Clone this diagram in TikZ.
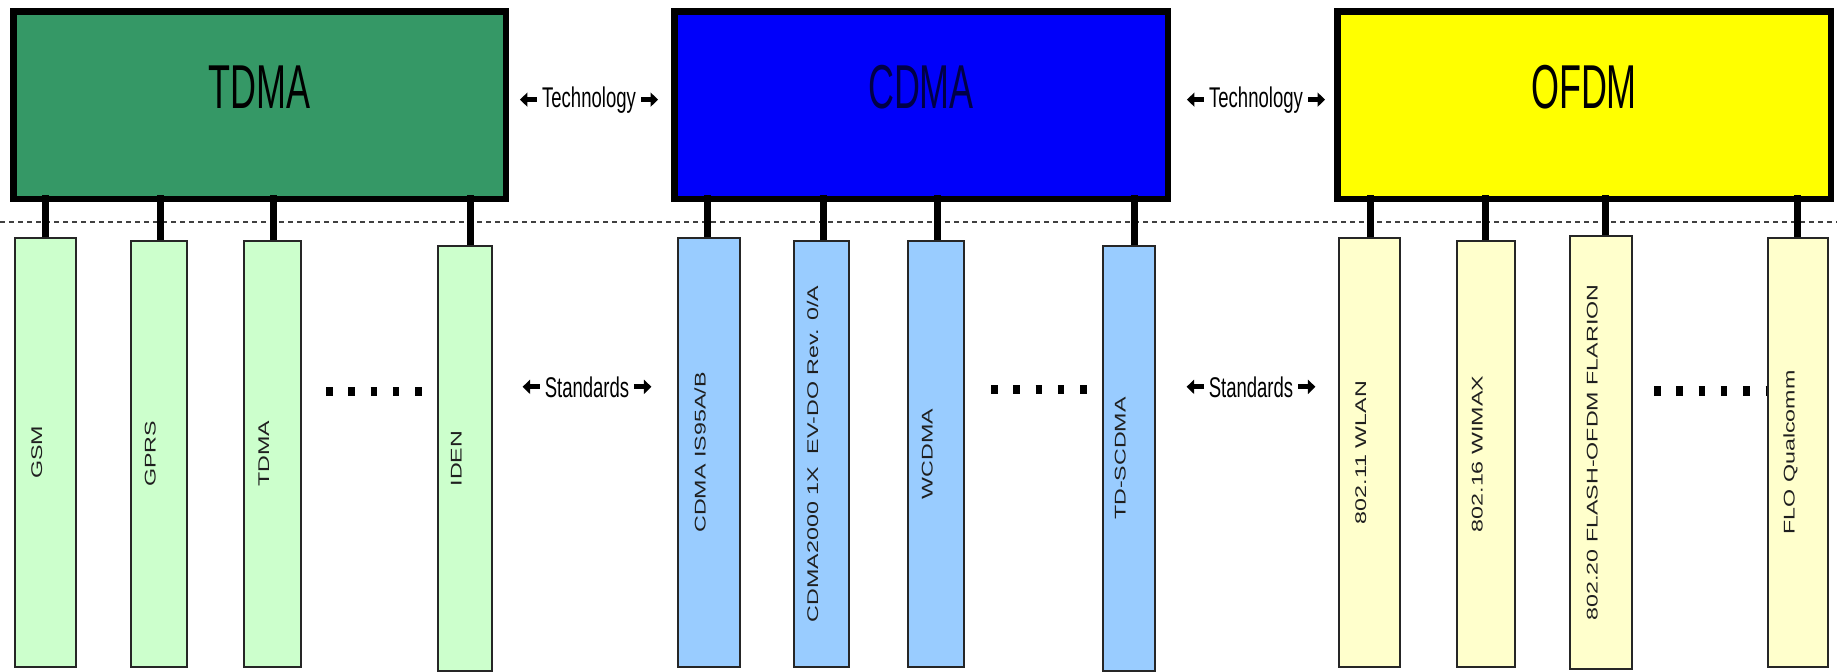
\documentclass[tikz,border=0pt]{standalone}
\usepackage{fontspec}
\setmainfont{Liberation Sans}
\newfontfamily\bigfont[FakeStretch=0.58]{Liberation Sans}
\newfontfamily\hfont[FakeStretch=0.65]{Liberation Sans}
\newfontfamily\vfont[FakeStretch=1.5]{Liberation Sans}
\usetikzlibrary{arrows.meta,calc}
\definecolor{tdmagreen}{RGB}{53,152,102}
\definecolor{cdmablue}{RGB}{0,0,250}
\definecolor{cdmatext}{RGB}{0,0,70}
\definecolor{ofdmyellow}{RGB}{255,255,0}
\definecolor{lgreen}{RGB}{204,255,204}
\definecolor{lblue}{RGB}{153,204,255}
\definecolor{lyellow}{RGB}{255,255,204}
\newcommand\linkbox[3]{\draw[conn] ($(#1.east)+(#3,0)$) -- ($(#1.east |- #2.south)+(#3,-7)$);}
\begin{document}
\begin{tikzpicture}[x=1pt,y=-1pt,
  bigbox/.style={draw=black, line width=6.5pt, inner sep=0pt, minimum height=187.5pt,
    text height=40pt, text depth=34pt, font=\bigfont\fontsize{62}{62}\selectfont},
  stdbox/.style={draw=black!85, line width=1.6pt, rotate=90, inner sep=0pt,
    text height=10pt, text depth=16.7pt, text=black!88,
    font=\vfont\fontsize{15.5}{15.5}\selectfont},
  gbox/.style={stdbox, fill=lgreen},
  bbox/.style={stdbox, fill=lblue},
  ybox/.style={stdbox, fill=lyellow},
  conn/.style={line width=7pt, black},
  lbl/.style={font=\hfont\fontsize{28.5}{28.5}\selectfont, inner sep=0pt, anchor=base},
  barrow/.style={line width=5pt, -{Triangle[length=7.5pt,width=14pt]}},
  dots/.style={line width=9.5pt, dash pattern=on 6.5pt off 15.8pt},
  sepline/.style={line width=2.5pt, black!75, dash pattern=on 4.5pt off 4.5pt}
]
\useasboundingbox (0,0) rectangle (1837,672);
\fill[white] (0,0) rectangle (1837,672);

% separator line
\coordinate (sl) at (0,222);
\coordinate (sr) at (1837,222);
\draw[sepline] (sl) -- (sr);

% continuation dots
\draw[dots] (326,391.5) -- (423,391.5);
\draw[dots] (991,389.5) -- (1088,389.5);
\draw[dots] (1654,391) -- (1772,391);

% standards boxes
\node[gbox, minimum width=429.4pt, minimum height=61.4pt] (gsm)   at (45.5,452.5) {GSM};
\node[gbox, minimum width=426.4pt, minimum height=56.4pt] (gprs)  at (159,454)    {GPRS};
\node[gbox, minimum width=426.4pt, minimum height=57.4pt] (tdmas) at (272.5,454)  {TDMA};
\node[gbox, minimum width=425.4pt, minimum height=54.4pt] (iden)  at (465,458.5)  {IDEN};

\node[bbox, minimum width=429.4pt, minimum height=62.4pt] (is95)  at (709,452.5)  {CDMA IS95A/B};
\node[bbox, minimum width=426.4pt, minimum height=55.4pt] (c2k)   at (821.5,454)  {CDMA2000 1X~~EV-DO Rev. 0/A};
\node[bbox, minimum width=426.4pt, minimum height=56.4pt] (wcdma) at (936,454)    {WCDMA};
\node[bbox, minimum width=425.4pt, minimum height=52.4pt] (tds)   at (1129,458.5) {TD-SCDMA};

\node[ybox, minimum width=429.4pt, minimum height=61.4pt] (wlan)  at (1369.5,452.5) {802.11 WLAN};
\node[ybox, minimum width=426.4pt, minimum height=58.4pt] (wimax) at (1486,454)     {802.16 WIMAX};
\node[ybox, minimum width=433.4pt, minimum height=62.4pt] (flash) at (1601,452.5)   {802.20 FLASH-OFDM FLARION};
\node[ybox, minimum width=429.4pt, minimum height=60.4pt] (flo)   at (1798,452.5)   {FLO Qualcomm};

% technology boxes
\node[bigbox, fill=tdmagreen, minimum width=492.5pt] (tdma) at (259.5,105) {TDMA};
\node[bigbox, fill=cdmablue, text=cdmatext, minimum width=493.5pt] (cdma) at (921,105) {CDMA};
\node[bigbox, fill=ofdmyellow, minimum width=493.5pt] (ofdm) at (1584,105) {OFDM};

% connectors
\linkbox{gsm}{tdma}{0}
\linkbox{gprs}{tdma}{1}
\linkbox{tdmas}{tdma}{0.5}
\linkbox{iden}{tdma}{5}
\linkbox{is95}{cdma}{-2}
\linkbox{c2k}{cdma}{1.5}
\linkbox{wcdma}{cdma}{1}
\linkbox{tds}{cdma}{5}
\linkbox{wlan}{ofdm}{0.5}
\linkbox{wimax}{ofdm}{-1}
\linkbox{flash}{ofdm}{4}
\linkbox{flo}{ofdm}{-1}

% side labels
\node[lbl] (tech1) at (589,107) {Technology};
\draw[barrow] ($(tech1.west)+(-5,0)$) -- ++(-17,0);
\draw[barrow] ($(tech1.east)+(5,0)$) -- ++(17,0);
\node[lbl] (tech2) at (1256,107) {Technology};
\draw[barrow] ($(tech2.west)+(-5,0)$) -- ++(-17,0);
\draw[barrow] ($(tech2.east)+(5,0)$) -- ++(17,0);
\node[lbl] (std1) at (587,397) {Standards};
\draw[barrow] ($(std1.west)+(-5,0)$) -- ++(-17,0);
\draw[barrow] ($(std1.east)+(5,0)$) -- ++(17,0);
\node[lbl] (std2) at (1251,397) {Standards};
\draw[barrow] ($(std2.west)+(-5,0)$) -- ++(-17,0);
\draw[barrow] ($(std2.east)+(5,0)$) -- ++(17,0);
\end{tikzpicture}
\end{document}
